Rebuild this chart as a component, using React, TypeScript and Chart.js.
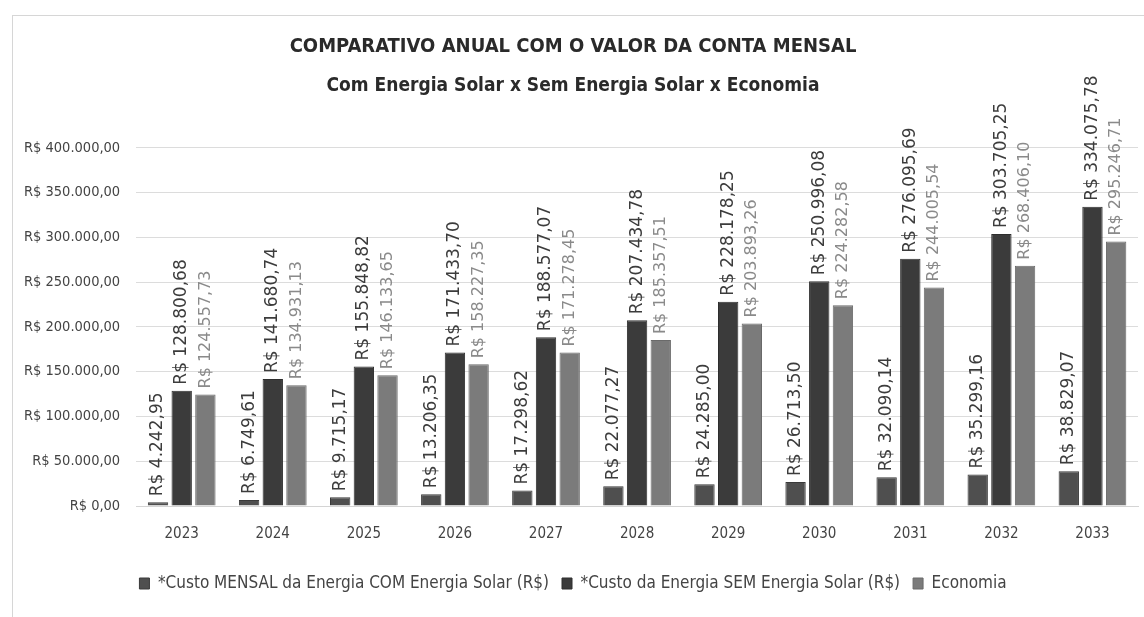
import React, { useEffect, useRef } from "react";
import { Chart, registerables } from "chart.js";

Chart.register(...registerables);

const categories = ["2023", "2024", "2025", "2026", "2027", "2028", "2029", "2030", "2031", "2032", "2033"];
const seriesNames = [
  "*Custo MENSAL da Energia COM Energia Solar (R$)",
  "*Custo da Energia SEM Energia Solar (R$)",
  "Economia",
];
const comSolar = [4242.95, 6749.61, 9715.17, 13206.35, 17298.62, 22077.27, 24285.0, 26713.5, 32090.14, 35299.16, 38829.07];
const semSolar = [128800.68, 141680.74, 155848.82, 171433.7, 188577.07, 207434.78, 228178.25, 250996.08, 276095.69, 303705.25, 334075.78];
const economia = [124557.73, 134931.13, 146133.65, 158227.35, 171278.45, 185357.51, 203893.26, 224282.58, 244005.54, 268406.1, 295246.71];
const yTicks = [0, 50000, 100000, 150000, 200000, 250000, 300000, 350000, 400000];

const NARROW = '"DejaVu Sans Condensed", "Liberation Sans Narrow", sans-serif';

function brl(v: number): string {
  const fixed = v.toFixed(2);
  const [intPart, dec] = fixed.split(".");
  const withDots = intPart.replace(/\B(?=(\d{3})+(?!\d))/g, ".");
  return "R$ " + withDots + "," + dec;
}

const labelStyles = [
  { font: '17px "DejaVu Sans", sans-serif', color: "#3c3c3c" },
  { font: '17px "DejaVu Sans", sans-serif', color: "#3c3c3c" },
  { font: '16px "DejaVu Sans", sans-serif', color: "#8a8a8a" },
];

const barLabelPlugin = {
  id: "barLabels",
  afterDatasetsDraw(chart: any) {
    const ctx = chart.ctx;
    chart.data.datasets.forEach((ds: any, di: number) => {
      const meta = chart.getDatasetMeta(di);
      const st = labelStyles[di];
      meta.data.forEach((bar: any, i: number) => {
        const v = ds.data[i];
        ctx.save();
        ctx.translate(bar.x, bar.y - 6);
        ctx.rotate(-Math.PI / 2);
        ctx.font = st.font;
        ctx.fillStyle = st.color;
        ctx.textAlign = "left";
        ctx.textBaseline = "middle";
        ctx.fillText(brl(v), 0, 0);
        ctx.restore();
      });
    });
  },
};

export default function App() {
  const ref = useRef<HTMLCanvasElement | null>(null);
  useEffect(() => {
    if (!ref.current) return;
    const chart = new Chart(ref.current, {
      type: "bar",
      data: {
        labels: categories,
        datasets: [
          { label: seriesNames[0], data: comSolar, backgroundColor: "#4f4f4f", borderColor: "#3a3a3a", borderWidth: 1 },
          { label: seriesNames[1], data: semSolar, backgroundColor: "#3b3b3b", borderColor: "#2e2e2e", borderWidth: 1 },
          { label: seriesNames[2], data: economia, backgroundColor: "#7b7b7b", borderColor: "#6a6a6a", borderWidth: 1 },
        ],
      },
      options: {
        responsive: false,
        animation: false,
        maintainAspectRatio: false,
        layout: { padding: { top: 35, left: 8, right: 6, bottom: 15 } },
        datasets: { bar: { categoryPercentage: 0.78, barPercentage: 0.86 } },
        plugins: {
          title: {
            display: true,
            text: "COMPARATIVO ANUAL COM O VALOR DA CONTA MENSAL",
            font: { family: NARROW, size: 20, weight: "bold" },
            color: "#2a2a2a",
            padding: { top: 0, bottom: 8 },
          },
          subtitle: {
            display: true,
            text: "Com Energia Solar x Sem Energia Solar x Economia",
            font: { family: NARROW, size: 19, weight: "bold" },
            color: "#2a2a2a",
            padding: { top: 8, bottom: 50 },
          },
          legend: {
            position: "bottom",
            labels: {
              font: { family: NARROW, size: 17 },
              color: "#444",
              boxWidth: 10,
              boxHeight: 11,
              padding: 13,
            },
          },
          tooltip: { enabled: false },
        },
        scales: {
          x: {
            grid: { display: false, drawTicks: false },
            border: { display: true, color: "#d4d4d4" },
            ticks: { font: { family: NARROW, size: 15 }, color: "#444", padding: 19 },
          },
          y: {
            min: 0,
            max: 400000,
            afterBuildTicks: (axis: any) => {
              axis.ticks = yTicks.map((v) => ({ value: v }));
            },
            grid: { color: "#dcdcdc", drawTicks: false },
            border: { display: false },
            ticks: {
              font: { family: NARROW, size: 14.5 },
              color: "#444",
              padding: 16,
              callback: (v: any) => brl(Number(v)),
            },
          },
        },
      },
      plugins: [barLabelPlugin],
    });
    return () => chart.destroy();
  }, []);
  return (
    <div style={{ position: "fixed", left: 0, top: 0, width: 1144, height: 617, background: "#fff" }}>
      <div style={{ position: "absolute", left: 12, top: 15, right: 0, bottom: 0, borderLeft: "1px solid #d6d6d6", borderTop: "1px solid #d6d6d6" }} />
      <canvas ref={ref} width={1144} height={617} style={{ position: "absolute", left: 0, top: 0 }} />
    </div>
  );
}
